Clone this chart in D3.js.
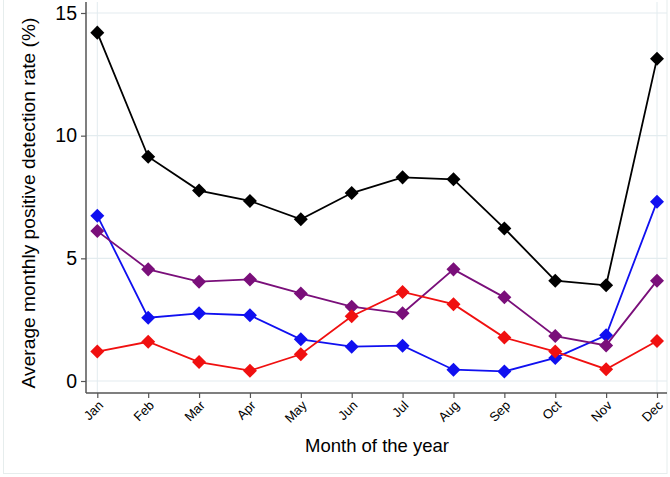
<!DOCTYPE html>
<html><head><meta charset="utf-8">
<script src="https://cdn.jsdelivr.net/npm/d3@7"></script>
<style>body{margin:0;background:#fff}svg{display:block}text{font-family:"Liberation Sans",Arial,sans-serif}</style>
</head><body>
<svg id="c" width="670" height="477"></svg>
<script>
const months = ["Jan","Feb","Mar","Apr","May","Jun","Jul","Aug","Sep","Oct","Nov","Dec"];
const yTicks = [0,5,10,15];
const blackSeries  = [14.2,9.14,7.76,7.34,6.59,7.66,8.30,8.22,6.22,4.09,3.90,13.14];
const blueSeries   = [6.74,2.58,2.76,2.68,1.70,1.40,1.44,0.46,0.39,0.94,1.86,7.31];
const purpleSeries = [6.11,4.55,4.05,4.14,3.57,3.03,2.76,4.55,3.41,1.83,1.45,4.09];
const redSeries    = [1.20,1.60,0.77,0.42,1.09,2.64,3.63,3.13,1.77,1.20,0.48,1.63];
const series = [
  {values: blackSeries, color: "#000000"},
  {values: blueSeries, color: "#1010f0"},
  {values: purpleSeries, color: "#7a0f7a"},
  {values: redSeries, color: "#f01010"}
];

const svg = d3.select("#c");
svg.append("rect").attr("x",3.5).attr("y",-2).attr("width",663.5).attr("height",475.5)
  .attr("fill","none").attr("stroke","#e6eded").attr("stroke-width",1);

const x = d3.scalePoint().domain(months).range([97.3, 657]);
const y = d3.scaleLinear().domain([0,15]).range([381, 13]);
const left = 86, bottom = 393, right = 667;

const g = svg.append("g");
g.selectAll(".hg").data(yTicks).join("line")
  .attr("x1",left).attr("x2",right).attr("y1",d=>y(d)).attr("y2",d=>y(d))
  .attr("stroke","#e3ecef").attr("stroke-width",1.2);
g.selectAll(".vg").data([months[0], months[11]]).join("line")
  .attr("x1",d=>x(d)).attr("x2",d=>x(d)).attr("y1",2).attr("y2",bottom)
  .attr("stroke","#e3ecef").attr("stroke-width",1);

const ya = svg.append("g").attr("transform",`translate(${left},0)`)
  .call(d3.axisLeft(y).tickValues(yTicks).tickSize(5).tickPadding(4));
ya.select(".domain").attr("d",`M0,2V${bottom}`).attr("stroke","#555").attr("stroke-width",1.5);
ya.selectAll(".tick line").attr("stroke","#555").attr("stroke-width",1.2);
ya.selectAll(".tick text").attr("font-size",19.5).attr("fill","#000").attr("font-family","Liberation Sans, Arial, sans-serif");

const xa = svg.append("g").attr("transform",`translate(0,${bottom})`)
  .call(d3.axisBottom(x).tickSize(5).tickPadding(3));
xa.select(".domain").attr("d",`M${left},0H${right}`).attr("stroke","#555").attr("stroke-width",1.5);
xa.selectAll(".tick line").attr("stroke","#555").attr("stroke-width",1.2);
xa.selectAll(".tick text").attr("font-size",13).attr("fill","#000")
  .attr("font-family","Liberation Sans, Arial, sans-serif")
  .attr("text-anchor","end").attr("dy","0.35em")
  .attr("transform","translate(3,10) rotate(-45)").attr("x",0).attr("y",0);

svg.append("text").attr("x",377).attr("y",452).attr("text-anchor","middle")
  .attr("font-size",18.5).text("Month of the year");
svg.append("text").attr("transform","translate(35,203) rotate(-90)").attr("text-anchor","middle")
  .attr("font-size",19.2).text("Average monthly positive detection rate (%)");

const line = d3.line().x((d,i)=>x(months[i])).y(d=>y(d));
const sym = d3.symbol().type(d3.symbolDiamond2).size(125);
series.forEach(s=>{
  svg.append("path").attr("d",line(s.values)).attr("fill","none")
    .attr("stroke",s.color).attr("stroke-width",1.8);
  svg.append("g").selectAll("path").data(s.values).join("path")
    .attr("d",sym).attr("transform",(d,i)=>`translate(${x(months[i])},${y(d)})`)
    .attr("fill",s.color);
});
</script>
</body></html>
